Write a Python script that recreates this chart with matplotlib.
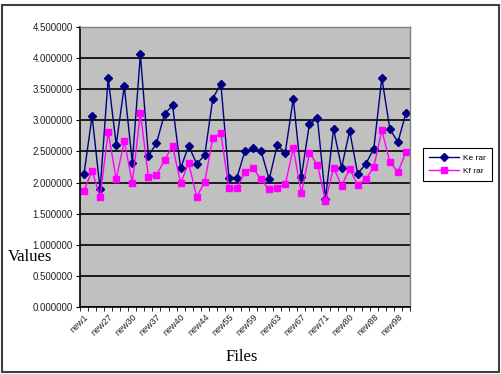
import matplotlib.pyplot as plt
from matplotlib.patches import Rectangle

# values (41 files)
ke_rar = [2.14, 3.07, 1.89, 3.68, 2.61, 3.55, 2.32, 4.06, 2.43, 2.63,
          3.10, 3.24, 2.23, 2.59, 2.30, 2.44, 3.35, 3.59, 2.08, 2.08,
          2.51, 2.55, 2.51, 2.05, 2.60, 2.48, 3.35, 2.09, 2.94, 3.03,
          1.74, 2.86, 2.24, 2.83, 2.14, 2.30, 2.54, 3.68, 2.86, 2.65, 3.12]
kf_rar = [1.87, 2.19, 1.77, 2.81, 2.05, 2.67, 2.00, 3.12, 2.09, 2.12,
          2.36, 2.59, 1.99, 2.31, 1.77, 2.01, 2.72, 2.79, 1.91, 1.91,
          2.17, 2.23, 2.05, 1.89, 1.92, 1.97, 2.55, 1.83, 2.47, 2.29,
          1.70, 2.24, 1.95, 2.22, 1.96, 2.05, 2.25, 2.84, 2.33, 2.17, 2.49]
# only every third file name is shown on the axis
shown_labels = ["new1", "new27", "new30", "new37", "new40", "new44", "new55",
                "new59", "new63", "new67", "new71", "new80", "new88", "new98"]
y_ticks = [0.0, 0.5, 1.0, 1.5, 2.0, 2.5, 3.0, 3.5, 4.0, 4.5]

W, H = 501, 374
fig = plt.figure(figsize=(W / 100, H / 100), dpi=100)
fig.patches.append(Rectangle((1.5 / W, 1 - 372 / H), 497.5 / W, 367 / H,
                             transform=fig.transFigure, fill=False,
                             edgecolor="#404040", lw=1.5))

ax = fig.add_axes([80 / W, 1 - 307 / H, 330 / W, 280 / H])
ax.set_facecolor("#C0C0C0")

x = list(range(len(ke_rar)))
ax.plot(x, ke_rar, color="#000080", lw=1, marker="D", ms=4.5,
        label="Ke rar")
ax.plot(x, kf_rar, color="#FF00FF", lw=1, marker="s", ms=4.5,
        label="Kf rar")

ax.set_ylim(0, 4.5)
ax.set_yticks(y_ticks)
ax.set_yticklabels([f"{v:.6f}" for v in y_ticks], fontsize=7,
                   family="Liberation Sans", color="#222222")
ax.yaxis.grid(True, color="black", lw=1.2)
ax.set_axisbelow(True)

ax.set_xlim(-0.5, len(ke_rar) - 0.5)
ax.set_xticks(list(range(0, len(ke_rar), 3)))
ax.set_xticklabels(shown_labels, rotation=45, ha="right",
                   rotation_mode="anchor", fontsize=6.5,
                   family="Liberation Sans", color="#222222")
ax.set_xticks([i - 0.5 for i in range(len(ke_rar) + 1)], minor=True)
ax.tick_params(axis="x", which="major", length=0, pad=4)
ax.tick_params(axis="x", which="minor", length=3, direction="out")
ax.tick_params(axis="y", length=3, direction="out", pad=2)

for s in ["left", "bottom"]:
    ax.spines[s].set_color("black")
    ax.spines[s].set_linewidth(1.2)
for s in ["top", "right"]:
    ax.spines[s].set_color("#808080")
    ax.spines[s].set_linewidth(1)

fig.text(30 / W, 1 - 257 / H, "Values", fontsize=12,
         family="Liberation Serif", ha="center", va="center")
fig.text(242 / W, 1 - 357 / H, "Files", fontsize=12,
         family="Liberation Serif", ha="center", va="center")

leg = ax.legend(loc="upper left", bbox_to_anchor=(423 / W, 1 - 148 / H),
                bbox_transform=fig.transFigure, borderaxespad=0,
                prop={"family": "Liberation Sans", "size": 6},
                fancybox=False, framealpha=1, handlelength=3.6,
                handletextpad=0.5, borderpad=0.7, labelspacing=0.7)
leg.get_frame().set_edgecolor("black")
leg.get_frame().set_linewidth(0.8)

fig.savefig("out.png", dpi=100)
